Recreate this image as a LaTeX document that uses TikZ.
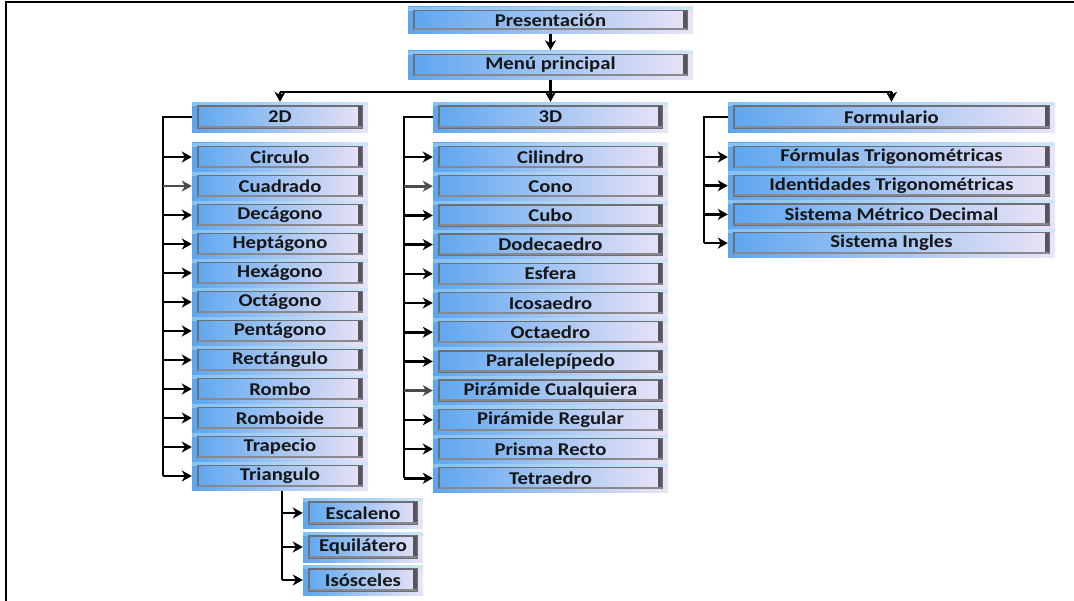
\documentclass[tikz,border=0pt]{standalone}
\usepackage{fontspec}
\setmainfont{Carlito}[FakeStretch=1.15]
\usetikzlibrary{arrows.meta,calc}
\definecolor{boxL}{RGB}{92,166,240}
\definecolor{boxR}{RGB}{236,228,246}
\definecolor{txt}{RGB}{22,22,22}
\definecolor{bev}{RGB}{85,85,92}
\tikzset{
  box/.style={draw=none, left color=boxL, right color=boxR, minimum height=29pt, inner sep=0pt,
    font=\fontsize{18}{21}\selectfont\bfseries, text=txt,
    path picture={
      \fill[cyan!30!white,opacity=0.45] (path picture bounding box.north west) rectangle ([yshift=-4pt]path picture bounding box.north east);
      \draw[line width=1.3pt, bev!85] ([shift={(6pt,-4pt)}]path picture bounding box.north west) rectangle ([shift={(-6pt,4pt)}]path picture bounding box.south east);
      \draw[line width=3.5pt, bev] ([shift={(-7.8pt,-4pt)}]path picture bounding box.north east) -- ([shift={(-7.8pt,4pt)}]path picture bounding box.south east);
      \draw[line width=2pt, bev!70] ([shift={(6pt,4.8pt)}]path picture bounding box.south west) -- ([shift={(-6pt,4.8pt)}]path picture bounding box.south east);
    }},
  conn/.style={line width=2.6pt, black},
  arr/.style={conn, -{Stealth[length=10pt,width=11pt,inset=3pt]}},
  garr/.style={arr, gray!60!black},
}
\begin{document}
\begin{tikzpicture}[x=1pt,y=-1pt]
\useasboundingbox (0,0) rectangle (1074,600);
\draw[line width=2.2pt] (6,601) -- (6,2) -- (1075,2);

\node[box, minimum width=285pt, minimum height=27pt] (pres) at (550.5,20) {Presentación};
\node[box, minimum width=285pt] (menu) at (550.5,65) {Menú principal};
\node[box, minimum width=176pt, minimum height=30pt] (d2) at (280,117) {2D};
\node[box, minimum width=235pt, minimum height=30pt] (d3) at (550.5,117) {3D};
\node[box, minimum width=327pt, minimum height=30pt] (frm) at (891.5,117) {Formulario};

\foreach \t [count=\i] in {Circulo,Cuadrado,Decágono,Heptágono,Hexágono,Octágono,Pentágono,Rectángulo,Rombo,Romboide,Trapecio,Triangulo}
  \node[box, minimum width=176pt] (a\i) at (280,{157+29*(\i-1)}) {\t};
\foreach \t [count=\i] in {Cilindro,Cono,Cubo,Dodecaedro,Esfera,Icosaedro,Octaedro,Paralelepípedo,Pirámide Cualquiera,Pirámide Regular,Prisma Recto,Tetraedro}
  \node[box, minimum width=235pt] (b\i) at (550.5,{157+29.2*(\i-1)}) {\t};
\foreach \t [count=\i] in {Fórmulas Trigonométricas,Identidades Trigonométricas,Sistema Métrico Decimal,Sistema Ingles}
  \node[box, minimum width=327pt] (f\i) at (891.5,{157+28.7*(\i-1)}) {\t};
\node[box, minimum width=120pt, minimum height=30pt] (s1) at (363,513) {Escaleno};
\node[box, minimum width=120pt, minimum height=30pt] (s2) at (363,547) {Equilátero};
\node[box, minimum width=120pt, minimum height=30pt] (s3) at (363,580) {Isósceles};

% top connectors
\draw[arr] (pres.south) -- (menu.north);
\coordinate (bar) at (550.5,92);
\draw[conn] (menu.south) -- (menu.south |- bar);
\draw[conn] (d2.north |- bar) -- (frm.north |- bar);
\draw[arr] (d2.north |- bar) -- (d2.north);
\draw[arr] (d3.north |- bar) -- (d3.north);
\draw[arr] (frm.north |- bar) -- (frm.north);

% brackets
\coordinate (x2) at (163,0);
\coordinate (x3) at (404,0);
\coordinate (xf) at (704,0);
\draw[conn] (d2.west) -- (d2.west -| x2) -- (a12.west -| x2);
\foreach \i in {1,3,4,5,6,7,8,9,10,11,12} \draw[arr] (a\i.west -| x2) -- (a\i.west);
\draw[garr] (a2.west -| x2) -- (a2.west);
\draw[conn] (d3.west) -- (d3.west -| x3) -- (b12.west -| x3);
\foreach \i in {1,3,4,5,6,7,8,10,11,12} \draw[arr] (b\i.west -| x3) -- (b\i.west);
\foreach \i in {2,9} \draw[garr] (b\i.west -| x3) -- (b\i.west);
\draw[conn] (frm.west) -- (frm.west -| xf) -- (f4.west -| xf);
\foreach \i in {1,...,4} \draw[arr] (f\i.west -| xf) -- (f\i.west);

% triangle subtypes
\coordinate (xs) at (282,0);
\draw[conn] (a12.south -| xs) -- (s3.west -| xs);
\foreach \i in {1,2,3} \draw[arr] (s\i.west -| xs) -- (s\i.west);
\end{tikzpicture}
\end{document}
